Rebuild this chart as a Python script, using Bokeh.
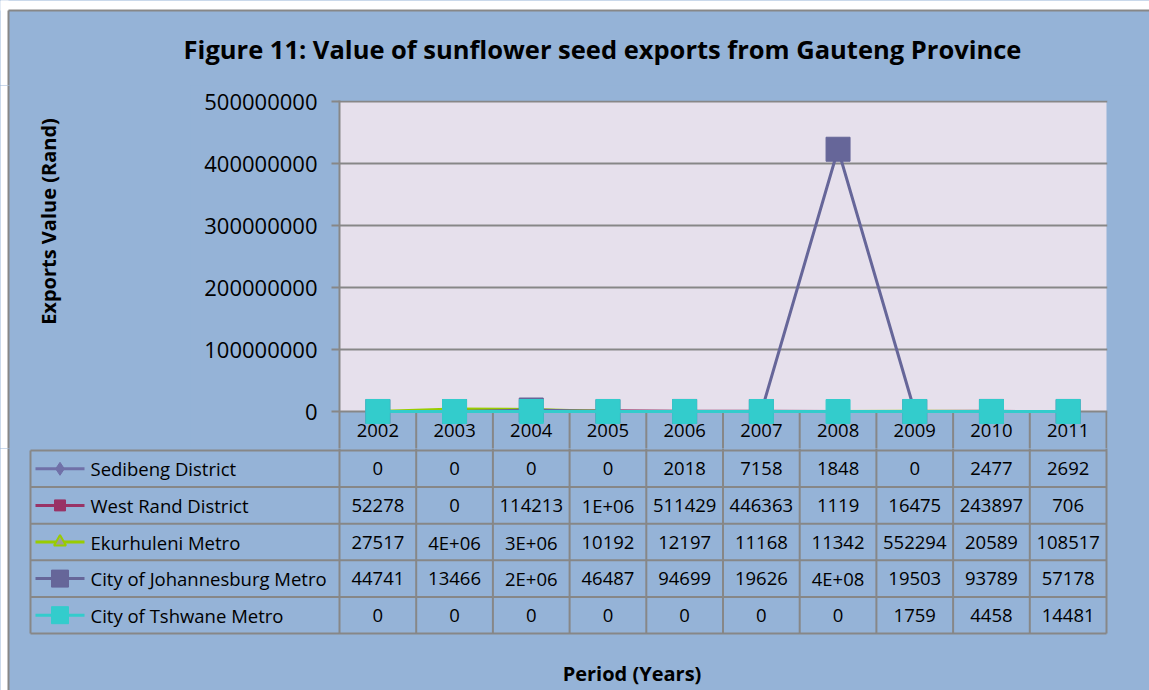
import numpy as np
from bokeh.plotting import figure
from bokeh.models import Range1d, FixedTicker, PrintfTickFormatter, ColumnDataSource
from bokeh.layouts import column, row
from bokeh.core.properties import value
from bokeh.embed import file_html
from bokeh.resources import INLINE

# ---------------- data ----------------
years = ["2002", "2003", "2004", "2005", "2006", "2007", "2008", "2009", "2010", "2011"]
series_names = ["Sedibeng District", "West Rand District", "Ekurhuleni Metro",
                "City of Johannesburg Metro", "City of Tshwane Metro"]
sedibeng = [0, 0, 0, 0, 2018, 7158, 1848, 0, 2477, 2692]
west_rand = [52278, 0, 114213, 1150000, 511429, 446363, 1119, 16475, 243897, 706]
ekurhuleni = [27517, 4200000, 3400000, 10192, 12197, 11168, 11342, 552294, 20589, 108517]
johannesburg = [44741, 13466, 2400000, 46487, 94699, 19626, 423000000, 19503, 93789, 57178]
tshwane = [0, 0, 0, 0, 0, 0, 0, 1759, 4458, 14481]
y_ticks = [0, 100000000, 200000000, 300000000, 400000000, 500000000]
title_text = "Figure 11: Value of sunflower seed exports from Gauteng Province"
y_title = "Exports Value (Rand)"
x_title = "Period (Years)"

series_values = [sedibeng, west_rand, ekurhuleni, johannesburg, tshwane]

# ---------------- styles ----------------
BG = "#95B3D7"
PLOT_BG = "#E6E0EC"
GRID = "#878787"
FONT = "Open Sans"
line_colors = ["#7070A8", "#993366", "#99CC00", "#666699", "#33CCCC"]
marker_fill = ["#7070A8", "#993366", "#9C9C9C", "#666699", "#33CCCC"]
markers = ["diamond", "square", "triangle", "square", "square"]
plot_marker_size = [15, 11, 13, 24, 24]
legend_marker_size = [13, 11, 12, 17, 17]

# ---------------- layout (page pixels) ----------------
W, H = 1149, 690
TOP_H = 85          # title strip height
LEFT_W = 190        # y-title strip width
PLOT_L, PLOT_R, PLOT_T, ZERO_Y, SPLIT_Y = 339, 1106, 101, 411, 448
TABLE_L, TABLE_T, TABLE_B = 30, 450, 633
CHART_X0, CHART_Y0 = 8, 10
n = len(years)
nrows = len(series_names)
COL_W = (PLOT_R - PLOT_L) / n
ROW_H = (TABLE_B - TABLE_T) / nrows
YMAX = y_ticks[-1]
ypp = YMAX / (ZERO_Y - PLOT_T)   # value per pixel

xc = np.arange(n) + 0.5
BOX_STYLE = {"background-color": BG}


def base_fig(width, height, **kw):
    f = figure(width=width, height=height, output_backend="svg", toolbar_location=None,
               frame_align=False, styles=BOX_STYLE, **kw)
    f.background_fill_color = BG
    f.border_fill_color = BG
    f.outline_line_color = None
    return f


def bare(f):
    f.axis.visible = False
    f.grid.visible = False
    for side in ("min_border_left", "min_border_right", "min_border_top", "min_border_bottom"):
        setattr(f, side, 0)


def chart_edge(f, x0, x1, y0, y1):
    # white page margin + grey chart border (layout decoration, page-pixel coordinates)
    f.quad(left=x0 - 2, right=CHART_X0, bottom=y1 + 2, top=y0 - 2, fill_color="white", line_color=None)
    f.segment(x0=CHART_X0, x1=CHART_X0, y0=max(y0 - 2, CHART_Y0), y1=y1 + 2, line_color=GRID, line_width=2)


# ---------------- title strip ----------------
pt = base_fig(W, TOP_H, x_range=Range1d(0, W), y_range=Range1d(TOP_H, 0))
bare(pt)
pt.quad(left=-2, right=W + 2, bottom=CHART_Y0, top=-2, fill_color="white", line_color=None)
chart_edge(pt, 0, W, 0, TOP_H)
pt.segment(x0=CHART_X0, x1=W + 2, y0=CHART_Y0, y1=CHART_Y0, line_color=GRID, line_width=2)
pt.text(x=[602], y=[48], text=[title_text], text_align="center", text_baseline="middle",
        text_font=value(FONT), text_font_size="25.5px", text_font_style="bold", text_color="#000000")

# ---------------- y-title strip ----------------
pl = base_fig(LEFT_W, SPLIT_Y - TOP_H, x_range=Range1d(0, LEFT_W), y_range=Range1d(SPLIT_Y, TOP_H))
bare(pl)
chart_edge(pl, 0, LEFT_W, TOP_H, SPLIT_Y)
pl.text(x=[48], y=[221], text=[y_title], angle=np.pi / 2, text_align="center", text_baseline="middle",
        text_font=value(FONT), text_font_size="20px", text_font_style="bold", text_color="#000000")

# ---------------- plot area + header row ----------------
p1 = base_fig(W - LEFT_W, SPLIT_Y - TOP_H,
              x_range=Range1d(0, n + 1 / COL_W),
              y_range=Range1d(-(SPLIT_Y - ZERO_Y) * ypp, YMAX + 1.0 * ypp),
              min_border_left=PLOT_L - LEFT_W, min_border_right=W - (PLOT_R + 1),
              min_border_top=PLOT_T - 1 - TOP_H, min_border_bottom=0)
p1.xaxis.visible = False
p1.xgrid.visible = False

yt = FixedTicker(ticks=y_ticks)
p1.yaxis.ticker = yt
p1.yaxis.formatter = PrintfTickFormatter(format="%d")
p1.yaxis.axis_line_color = GRID
p1.yaxis.axis_line_width = 2
p1.yaxis.major_tick_line_color = GRID
p1.yaxis.major_tick_line_width = 2
p1.yaxis.major_tick_out = 8
p1.yaxis.major_tick_in = 0
p1.yaxis.minor_tick_line_color = None
p1.yaxis.major_label_standoff = 14
p1.yaxis.major_label_text_font = FONT
p1.yaxis.major_label_text_font_size = "22px"
p1.yaxis.major_label_text_color = "#000000"
p1.ygrid.ticker = yt
p1.ygrid.grid_line_color = GRID
p1.ygrid.grid_line_width = 2

p1.quad(left=0, right=n, bottom=0, top=YMAX, fill_color=PLOT_BG, line_color=None, level="image")
p1.segment(x0=np.arange(1, n + 1), x1=np.arange(1, n + 1), y0=0,
           y1=-(SPLIT_Y - ZERO_Y + 2) * ypp, line_color=GRID, line_width=2)

for vals, lc, mf, mk, ms in zip(series_values, line_colors, marker_fill, markers, plot_marker_size):
    p1.line(xc, vals, line_color=lc, line_width=3)
    p1.scatter(xc, vals, marker=mk, size=ms, fill_color=mf,
               line_color=lc if mk == "triangle" else mf, line_width=2 if mk == "triangle" else 1)

p1.text(x=xc, y=0, text=years, y_offset=19, text_align="center", text_baseline="middle",
        text_font=value(FONT), text_font_size="18.5px", text_color="#000000")

# ---------------- data table ----------------
x_of = lambda px: (px - PLOT_L) / COL_W
r_of = lambda py: (py - TABLE_T) / ROW_H
p2 = base_fig(W, H - SPLIT_Y, x_range=Range1d(x_of(0), x_of(W)), y_range=Range1d(r_of(H), r_of(SPLIT_Y)))
bare(p2)
p2.quad(left=x_of(-2), right=x_of(CHART_X0), bottom=r_of(H + 2), top=r_of(SPLIT_Y - 2),
        fill_color="white", line_color=None)
p2.segment(x0=x_of(CHART_X0), x1=x_of(CHART_X0), y0=r_of(SPLIT_Y - 2), y1=r_of(H + 2),
           line_color=GRID, line_width=2)

x_left = x_of(TABLE_L)
p2.segment(x0=x_left, x1=n, y0=np.arange(nrows + 1), y1=np.arange(nrows + 1),
           line_color=GRID, line_width=2)
vx = np.concatenate([[x_left], np.arange(0, n + 1)])
vy0 = np.where(vx == x_left, 0, r_of(SPLIT_Y - 2))
p2.segment(x0=vx, x1=vx, y0=vy0, y1=nrows, line_color=GRID, line_width=2)


def excel_general(v):
    return f"{v:.0E}" if abs(v) >= 1e6 else str(int(v))


cx, cy, ct = [], [], []
for k, vals in enumerate(series_values):
    for i, v in enumerate(vals):
        cx.append(i + 0.5)
        cy.append(k + 0.5)
        ct.append(excel_general(v))
src = ColumnDataSource(dict(x=cx, y=cy, t=ct))
p2.text(x="x", y="y", text="t", source=src, text_align="center", text_baseline="middle",
        text_font=value(FONT), text_font_size="18.5px", text_color="#000000")

rows = np.arange(nrows) + 0.5
p2.text(x=x_of(90), y=rows, text=series_names, text_align="left", text_baseline="middle",
        text_font=value(FONT), text_font_size="18.5px", text_color="#000000")
for k, (lc, mf, mk, ms) in enumerate(zip(line_colors, marker_fill, markers, legend_marker_size)):
    p2.segment(x0=x_of(35), x1=x_of(84), y0=k + 0.5, y1=k + 0.5, line_color=lc, line_width=3)
    p2.scatter([x_of(59.5)], [k + 0.5], marker=mk, size=ms, fill_color=mf,
               line_color=lc if mk == "triangle" else mf, line_width=2 if mk == "triangle" else 1)

p2.text(x=[x_of(631.5)], y=[r_of(673)], text=[x_title], text_align="center", text_baseline="middle",
        text_font=value(FONT), text_font_size="20px", text_font_style="bold", text_color="#000000")

layout = column(pt, row(pl, p1, spacing=0, styles=BOX_STYLE), p2, spacing=0, styles=BOX_STYLE)
open("out.html", "w").write(file_html(layout, INLINE))
